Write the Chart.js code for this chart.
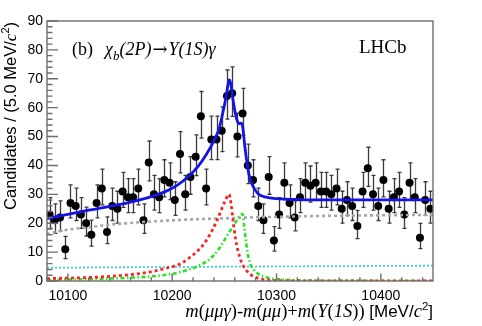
<!DOCTYPE html>
<html><head><meta charset="utf-8">
<script src="https://cdn.jsdelivr.net/npm/chart.js@4.4.0/dist/chart.umd.min.js"></script>
<style>html,body{margin:0;padding:0;background:#fff}#wrap{width:482px;height:326px}</style>
</head><body><div id="wrap"><canvas id="c" width="482" height="326"></canvas></div>
<script>
// ---- data ----
const massBins = [
10082.5,10087.5,10092.5,10097.5,10102.5,10107.5,10112.5,10117.5,10122.5,10127.5,
10132.5,10137.5,10142.5,10147.5,10152.5,10157.5,10162.5,10167.5,10172.5,10177.5,
10182.5,10187.5,10192.5,10197.5,10202.5,10207.5,10212.5,10217.5,10222.5,10227.5,
10232.5,10237.5,10242.5,10247.5,10252.5,10257.5,10262.5,10267.5,10272.5,10277.5,
10282.5,10287.5,10292.5,10297.5,10302.5,10307.5,10312.5,10317.5,10322.5,10327.5,
10332.5,10337.5,10342.5,10347.5,10352.5,10357.5,10362.5,10367.5,10372.5,10377.5,
10382.5,10387.5,10392.5,10397.5,10402.5,10407.5,10412.5,10417.5,10422.5,10427.5,
10432.5,10437.5,10442.5,10447.5];
const candidates = [
23,21,22,11,27,26,23,20,16,27,
32,17,26,25,31,29,29,32,21,41,
30,29,35,34,28,44,30,36,43,57,
32,49,49,52,64,65,50,58,40,35,
26,21,36,14,23,34,27,22,29,34,
33,34,31,31,30,32,25,28,26,19,
31,39,30,26,35,25,29,31,23,34,
29,15,28,25];

const totalFitX = [10080,10100,10120,10140,10160,10180,10195,10205,10215,10225,10233,10240,10245,10249,10252,10254.5,10256,10258,10260,10262,10264,10266,10267.5,10269.5,10271.5,10273.5,10276,10279,10283,10290,10300,10320,10360,10450];
const totalFitY = [21.6,23.1,24.5,25.8,27.3,29.2,31.2,33.2,36.0,39.8,44.0,48.5,52.8,59.0,64.5,69.6,68.5,63.5,59.0,55.8,54.5,54.6,53.5,47.0,41.5,37.0,34.0,31.8,30.0,29.0,28.5,28.2,28.1,28.1];

const bkgX = [10080,10090,10105,10120,10140,10160,10180,10200,10225,10250,10275,10300,10325,10360,10400,10450];
const bkgY = [16.2,17.1,18.0,18.6,19.5,20.1,20.6,21.0,21.4,21.7,22.0,22.2,22.4,22.6,22.75,22.9];

const sig1X = [10080,10100,10120,10140,10160,10180,10195,10207,10217,10226,10233,10239,10243,10247,10250.5,10254.5,10256.5,10258.5,10261,10264.5,10268,10272,10276,10282,10290,10300,10330,10450];
const sig1Y = [0.8,1.0,1.2,1.6,2.2,3.2,4.5,5.8,8.2,11.0,14.2,18.0,21.0,24.5,27.5,30.0,26.5,20.5,14.0,8.5,5.3,3.3,2.0,1.0,0.4,0.15,0.03,0];

const sig2X = [10080,10100,10120,10140,10160,10180,10200,10215,10225,10233,10240,10246,10252,10257,10262,10265,10267.5,10269,10271,10273,10275,10278,10284,10290,10297,10310,10330,10450];
const sig2Y = [0.4,0.5,0.65,0.85,1.15,1.6,2.5,3.8,5.2,6.8,9.0,11.8,15.3,18.2,21.0,22.5,23.2,19.0,13.0,8.5,5.8,4.0,2.1,1.3,0.8,0.4,0.15,0];

const otherX = [10080,10200,10330,10450];
const otherY = [4.6,4.85,5.1,5.3];

const xTickLabels = [10100,10200,10300,10400];
const yTickLabels = [0,10,20,30,40,50,60,70,80,90];

// ---- helpers ----
const pts = (xs, ys) => xs.map((x, i) => ({x, y: ys[i]}));
function poissonLo(n){ if(n===0) return 0; const t=1-1/(9*n)-1/(3*Math.sqrt(n)); return n*t*t*t; }
function poissonHi(n){ return n+1+Math.sqrt(n+0.75); }

const SANS = '"Liberation Sans", Arial, Helvetica, sans-serif';
const SERIF = '"Liberation Serif", "Times New Roman", serif';

function drawSegments(ctx, segs, x, y){
  let cx = x;
  for (const s of segs){
    ctx.font = s.font;
    ctx.fillText(s.t, cx, y + (s.dy||0));
    cx += ctx.measureText(s.t).width + (s.sp||0);
  }
  return cx - x;
}
function measureSegments(ctx, segs){
  let w = 0;
  for (const s of segs){ ctx.font = s.font; w += ctx.measureText(s.t).width + (s.sp||0); }
  return w;
}

const rootStyle = {
  id: 'rootStyle',
  beforeDatasetDraw(chart, args){
    const ds = chart.data.datasets[args.index];
    if (ds.label !== 'Data') return;
    const ctx = chart.ctx, xs = chart.scales.x, ys = chart.scales.y, a = chart.chartArea;
    ctx.save();
    ctx.beginPath(); ctx.rect(a.left, a.top, a.right-a.left, a.bottom-a.top); ctx.clip();
    ctx.strokeStyle = '#3a3a3a'; ctx.lineWidth = 1.3;
    massBins.forEach((m, i) => {
      const n = candidates[i];
      const px = Math.round(xs.getPixelForValue(m)) + 0.5;
      const y1 = ys.getPixelForValue(poissonLo(n));
      const y2 = ys.getPixelForValue(poissonHi(n));
      ctx.beginPath();
      ctx.moveTo(px, y1); ctx.lineTo(px, y2);
      ctx.moveTo(px-2, y1); ctx.lineTo(px+2, y1);
      ctx.moveTo(px-2, y2); ctx.lineTo(px+2, y2);
      ctx.stroke();
    });
    ctx.restore();
  },
  afterDatasetsDraw(chart){
    const ctx = chart.ctx, xs = chart.scales.x, ys = chart.scales.y, a = chart.chartArea;
    ctx.save();
    ctx.strokeStyle = '#6e6e6e'; ctx.lineWidth = 1.4;
    ctx.strokeRect(a.left, a.top, a.right-a.left, a.bottom-a.top);
    ctx.beginPath();
    for (let v = ys.min; v <= ys.max + 1e-9; v += 2){
      const y = ys.getPixelForValue(v);
      const len = yTickLabels.includes(v) ? 11 : 5.5;
      ctx.moveTo(a.left, y); ctx.lineTo(a.left + len, y);
    }
    for (let v = 10080; v <= xs.max; v += 20){
      const x = xs.getPixelForValue(v);
      const len = xTickLabels.includes(v) ? 7.5 : 3.8;
      ctx.moveTo(x, a.bottom); ctx.lineTo(x, a.bottom - len);
    }
    ctx.stroke();
    ctx.restore();
  },
  afterDraw(chart){
    const ctx = chart.ctx, a = chart.chartArea;
    ctx.save();
    ctx.fillStyle = '#000';
    ctx.textBaseline = 'alphabetic';
    ctx.textAlign = 'left';
    // y title (rotated, top aligned)
    const yt = [
      {t:'Candidates / (5.0 MeV/', font:'16.5px '+SANS},
      {t:'c', font:'italic 17px '+SERIF},
      {t:'2', font:'11px '+SANS, dy:-7},
      {t:')', font:'16.5px '+SANS}
    ];
    const wy = measureSegments(ctx, yt);
    ctx.save();
    ctx.translate(15.5, a.top + 1);
    ctx.rotate(-Math.PI/2);
    drawSegments(ctx, yt, -wy, 0);
    ctx.restore();
    // x title (right aligned)
    const sI = 'italic 18.5px '+SERIF, sR = '18.5px '+SERIF;
    const xt = [
      {t:'m', font:sI},{t:'(', font:sR},{t:'μμγ', font:sI},{t:')-', font:sR},
      {t:'m', font:sI},{t:'(', font:sR},{t:'μμ', font:sI},{t:')+', font:sR},
      {t:'m', font:sI},{t:'(', font:sR},{t:'Υ', font:sI},{t:'(', font:sR},{t:'1S', font:sI},{t:'))', font:sR},
      {t:' [MeV/', font:'17px '+SANS},{t:'c', font:sI},{t:'2', font:'11.5px '+SANS, dy:-7.5},{t:']', font:'17px '+SANS}
    ];
    const wx = measureSegments(ctx, xt);
    drawSegments(ctx, xt, a.right - wx, 317);
    // header label
    ctx.font = '18px '+SERIF;
    ctx.fillText('(b)', 72, 55);
    const hs = [
      {t:'χ', font:'italic 18px '+SERIF},
      {t:'b', font:'italic 13px '+SERIF, dy:5},
      {t:'(2', font:'italic 18px '+SERIF},
      {t:'P', font:'italic 18px '+SERIF},
      {t:')', font:'italic 18px '+SERIF, sp:1},
      {t:'→', font:'18px "DejaVu Serif", '+SERIF, sp:1},
      {t:'Υ', font:'italic 18px '+SERIF},
      {t:'(1S)', font:'italic 18px '+SERIF},
      {t:'γ', font:'italic 18px '+SERIF}
    ];
    drawSegments(ctx, hs, 105, 55);
    ctx.font = '19px '+SERIF;
    ctx.fillText('LHCb', 359, 52.5);
    ctx.restore();
  }
};

new Chart(document.getElementById('c'), {
  type: 'scatter',
  data: {
    datasets: [
      {label:'Total', type:'line', data: pts(totalFitX,totalFitY), borderColor:'#1414e6', borderWidth:2.8, pointRadius:0, fill:false, cubicInterpolationMode:'monotone', order:1},
      {label:'Sig1', type:'line', data: pts(sig1X,sig1Y), borderColor:'#ff2020', borderWidth:2.8, borderDash:[3,3], pointRadius:0, fill:false, cubicInterpolationMode:'monotone', order:2},
      {label:'Sig2', type:'line', data: pts(sig2X,sig2Y), borderColor:'#22e622', borderWidth:2.6, borderDash:[4,2.5,1.5,2.5], pointRadius:0, fill:false, cubicInterpolationMode:'monotone', order:3},
      {label:'Bkg', type:'line', data: pts(bkgX,bkgY), borderColor:'#a6a6a6', borderWidth:2.6, borderDash:[3,3], pointRadius:0, fill:false, cubicInterpolationMode:'monotone', order:4},
      {label:'Other', type:'line', data: pts(otherX,otherY), borderColor:'#3fcfd6', borderWidth:1.8, borderDash:[2,2], pointRadius:0, fill:false, cubicInterpolationMode:'monotone', order:5},
      {label:'Data', data: pts(massBins,candidates), backgroundColor:'#000', borderColor:'#000', pointRadius:4, pointBorderWidth:0, showLine:false, order:10}
    ]
  },
  options: {
    responsive:false, animation:false, devicePixelRatio:1,
    layout:{padding:{top:21, right:49, left:0, bottom:0}},
    plugins:{legend:{display:false}, tooltip:{enabled:false}},
    scales:{
      x:{type:'linear', position:'bottom', min:10080, max:10450,
        grid:{display:false, drawTicks:false}, border:{display:false},
        afterBuildTicks:(s)=>{ s.ticks = xTickLabels.map(v=>({value:v})); },
        afterFit:(s)=>{ s.height = 45; },
        ticks:{autoSkip:false, maxRotation:0, padding:7, color:'#000', font:{family:SANS, size:14}, callback:(v)=>String(v)}
      },
      y:{type:'linear', min:0, max:90,
        grid:{display:false, drawTicks:false}, border:{display:false},
        afterBuildTicks:(s)=>{ s.ticks = yTickLabels.map(v=>({value:v})); },
        afterFit:(s)=>{ s.width = 47; },
        ticks:{autoSkip:false, padding:4, color:'#000', font:{family:SANS, size:14}, callback:(v)=>String(v)}
      }
    }
  },
  plugins:[rootStyle]
});
</script>
</body></html>
